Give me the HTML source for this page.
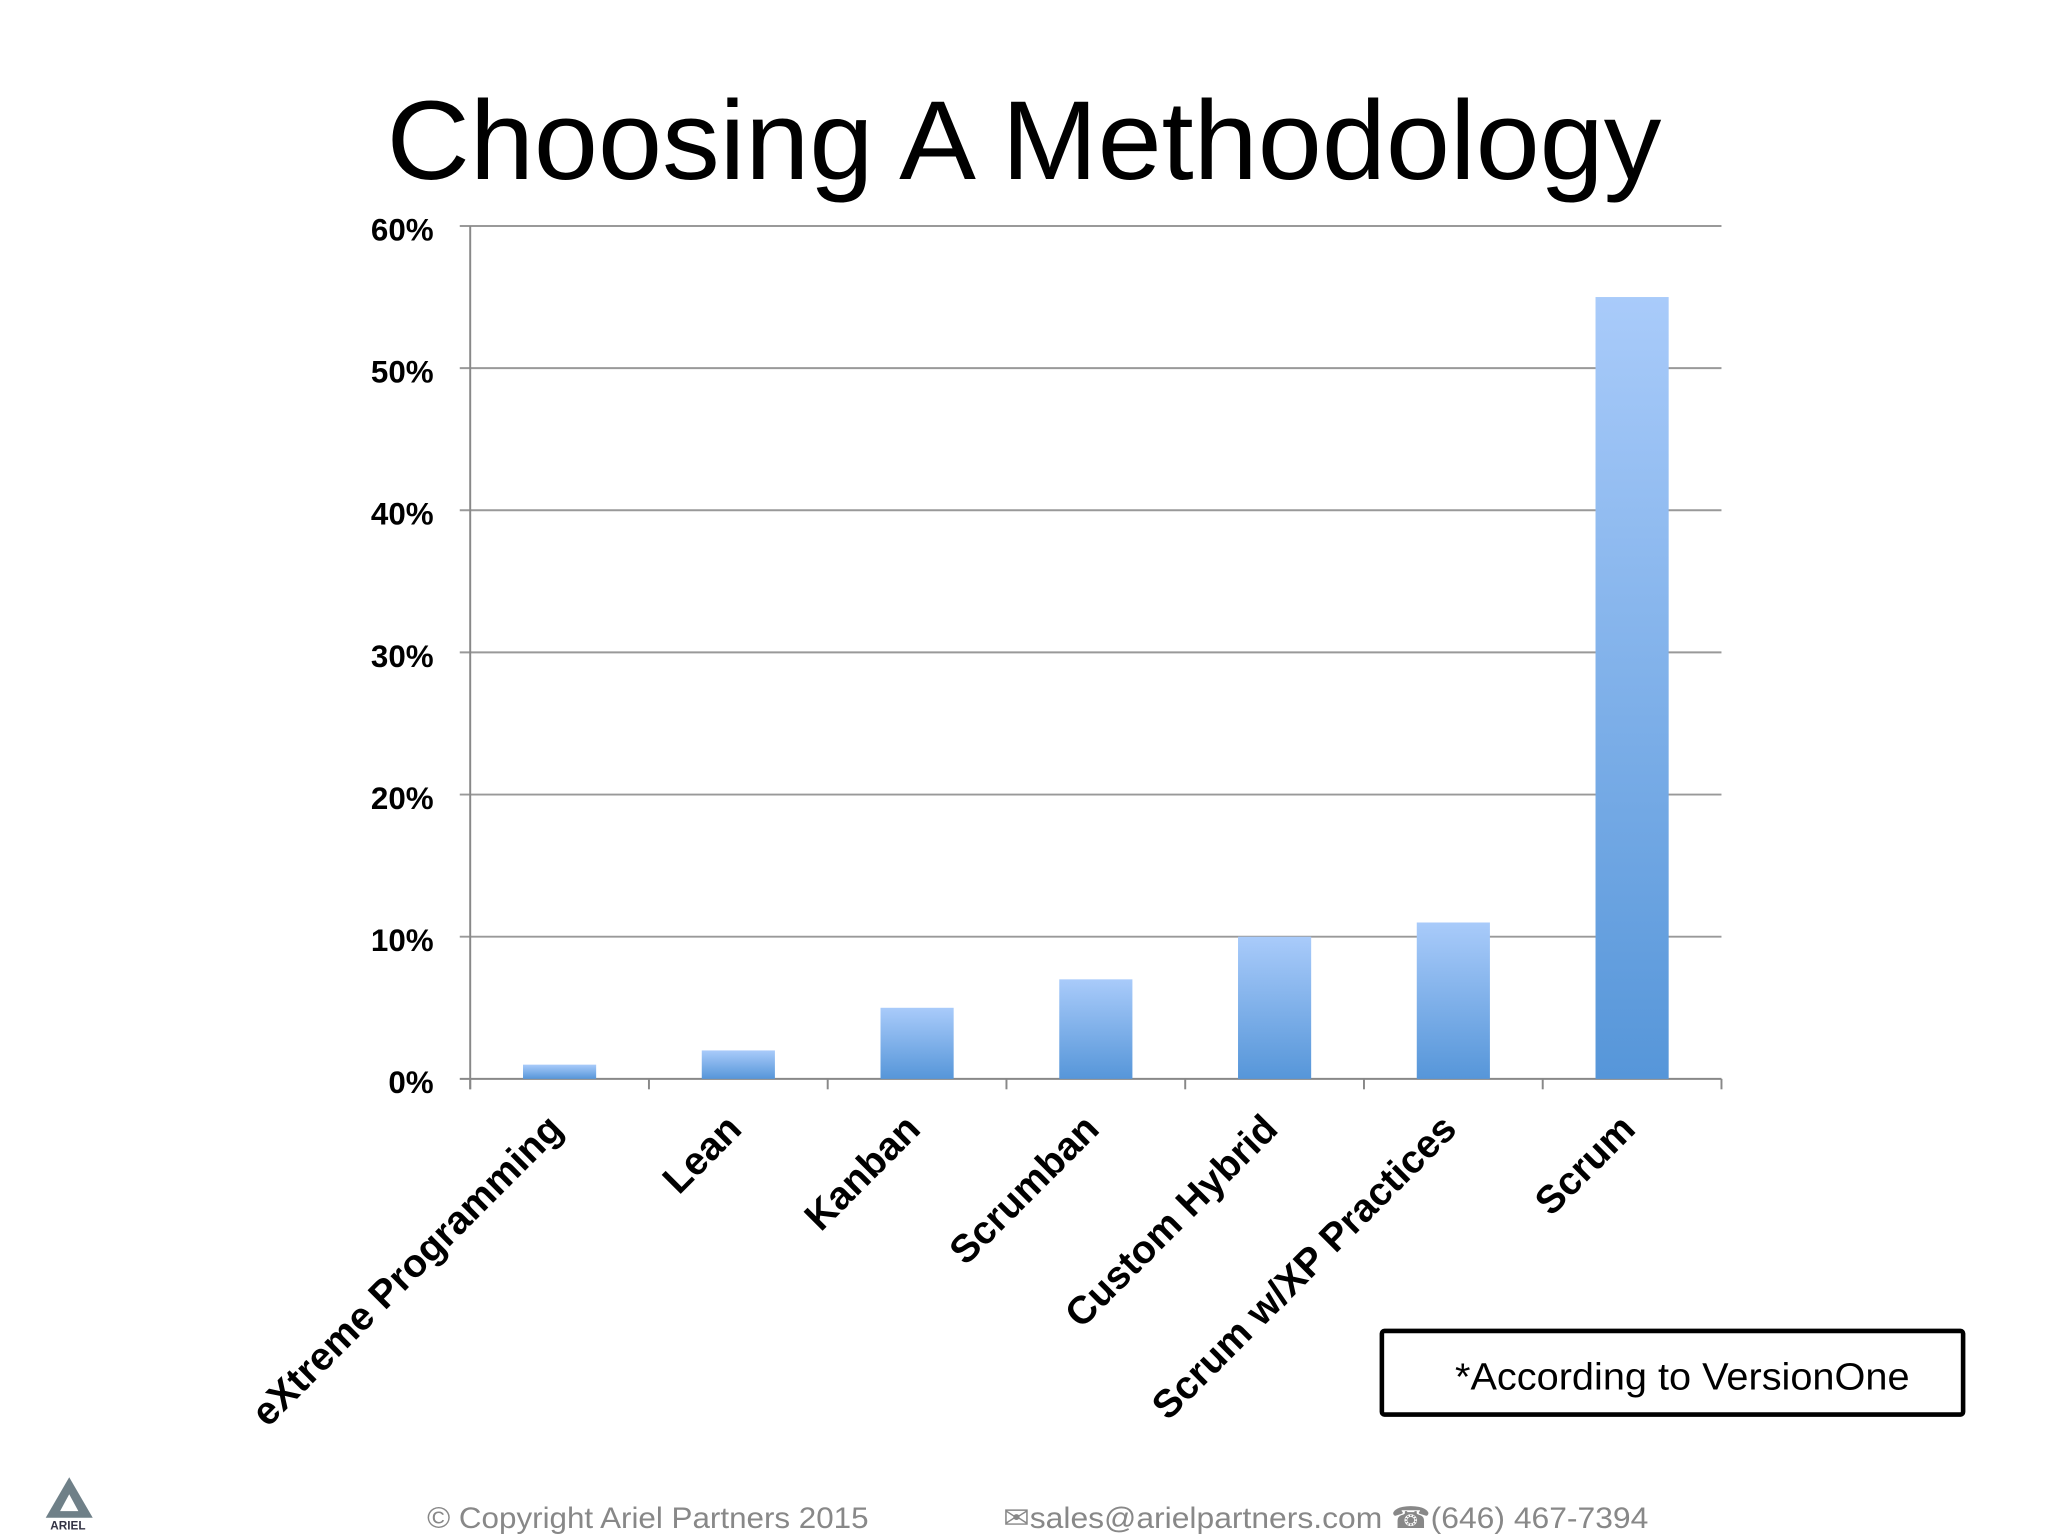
<!DOCTYPE html>
<html><head><meta charset="utf-8"><style>html,body{margin:0;padding:0;background:#fff}svg{display:block}</style></head>
<body>
<svg id="c" width="2048" height="1536" viewBox="0 0 1568 1176" xmlns="http://www.w3.org/2000/svg" font-family="Liberation Sans, sans-serif">
<defs><linearGradient id="g" x1="0" y1="0" x2="0" y2="1"><stop offset="0" stop-color="#a9cbfa"/><stop offset="1" stop-color="#5696d9"/></linearGradient></defs>
<text x="296" y="137" font-size="86" textLength="976" lengthAdjust="spacingAndGlyphs" fill="#000">Choosing A Methodology</text>
<g id="grid"></g><g id="bars"></g><g id="labels"></g>
<g>
<rect x="1058" y="1019" width="445" height="64" fill="#fff" stroke="#000" stroke-width="3.5" rx="2"/>
<text x="1114" y="1064" font-size="29" textLength="348" lengthAdjust="spacingAndGlyphs">*According to VersionOne</text></g>
<g><polygon points="53,1131 35,1162 71,1162" fill="#6f8088"/><polygon points="53,1144 46,1157 60,1157" fill="#fff"/><text x="52" y="1171" font-size="9" font-weight="bold" text-anchor="middle" fill="#334">ARIEL</text></g>
<text x="327" y="1170" font-size="23" fill="#888" textLength="338" lengthAdjust="spacingAndGlyphs">© Copyright Ariel Partners 2015</text>
<text x="768" y="1170" font-size="23" fill="#888" textLength="494" lengthAdjust="spacingAndGlyphs">✉sales@arielpartners.com ☎(646) 467-7394</text>
</svg>
<script>
const categories=["eXtreme Programming","Lean","Kanban","Scrumban","Custom Hybrid","Scrum w/XP Practices","Scrum"];
const values=[1,2,5,7,10,11,55];
const ticks=[0,10,20,30,40,50,60];
const ns="http://www.w3.org/2000/svg";
const X0=360,X1=1318,Y0=826,Y60=173;
const y=v=>Y0-(v/60)*(Y0-Y60);
const step=(X1-X0)/categories.length;
const xc=i=>X0+step*(i+0.5);
function mk(t,a,p){const e=document.createElementNS(ns,t);for(const k in a)e.setAttribute(k,a[k]);p.appendChild(e);return e;}
const grid=document.getElementById('grid'),bars=document.getElementById('bars'),labels=document.getElementById('labels');
ticks.forEach(t=>{
 const l=mk('line',{x1:X0-8,x2:X1,y1:y(t),y2:y(t),stroke:t===0?'#888':'#999','stroke-width':1.5},grid);
 
 
 const tx=mk('text',{x:332,y:y(t)+11,'font-size':24,'font-weight':'bold','text-anchor':'end'},grid);
 tx.textContent=t+'%';
 
 
});
const ax=mk('line',{x1:X0,x2:X0,y1:Y60,y2:Y0+8,stroke:'#888','stroke-width':1.5},grid);


for(let i=0;i<=categories.length;i++){
 const tk=mk('line',{x1:X0+step*i,x2:X0+step*i,y1:Y0,y2:Y0+8,stroke:'#888','stroke-width':1.5},grid);
 
 
}
categories.forEach((c,i)=>{
 const r=mk('rect',{x:xc(i)-28,y:y(values[i]),width:56,height:Y0-y(values[i]),fill:'url(#g)'},bars);
 
 
 const tx=mk('text',{transform:`translate(${xc(i)+4},${Y0+40}) rotate(-45)`,'font-size':30,'font-weight':'bold','text-anchor':'end'},labels);
 tx.textContent=c;
 
 
});
</script>
</body></html>
